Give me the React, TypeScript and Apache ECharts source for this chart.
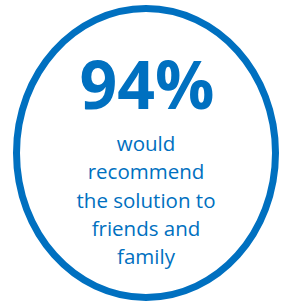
import React, { useEffect, useRef } from "react";
import * as echarts from "echarts";

const headline = "94%";
const bodyLines = ["would", "recommend", "the solution to", "friends and", "family"];
const bodyLineY = [143, 171, 200, 228, 256];
const BLUE = "#0070C0";

export default function App() {
  const ref = useRef<HTMLDivElement>(null);
  useEffect(() => {
    document.body.style.margin = "0";
    const chart = echarts.init(ref.current!, undefined, { renderer: "svg" });
    chart.setOption({
      animation: false,
      graphic: [
        {
          type: "ellipse",
          shape: { cx: 146, cy: 153, rx: 129.5, ry: 144.5 },
          style: { fill: "#ffffff", stroke: BLUE, lineWidth: 7 },
        },
        {
          type: "text",
          x: 147,
          y: 83,
          style: {
            text: headline,
            fill: BLUE,
            font: "bold 66px 'Open Sans'",
            textAlign: "center",
            textVerticalAlign: "middle",
          },
        },
        ...bodyLines.map((t, i) => ({
          type: "text",
          x: 146,
          y: bodyLineY[i],
          style: {
            text: t,
            fill: BLUE,
            font: "20.5px 'Open Sans'",
            textAlign: "center",
            textVerticalAlign: "middle",
          },
        })),
      ],
    });
    return () => chart.dispose();
  }, []);
  return <div ref={ref} style={{ width: 286, height: 304 }} />;
}
